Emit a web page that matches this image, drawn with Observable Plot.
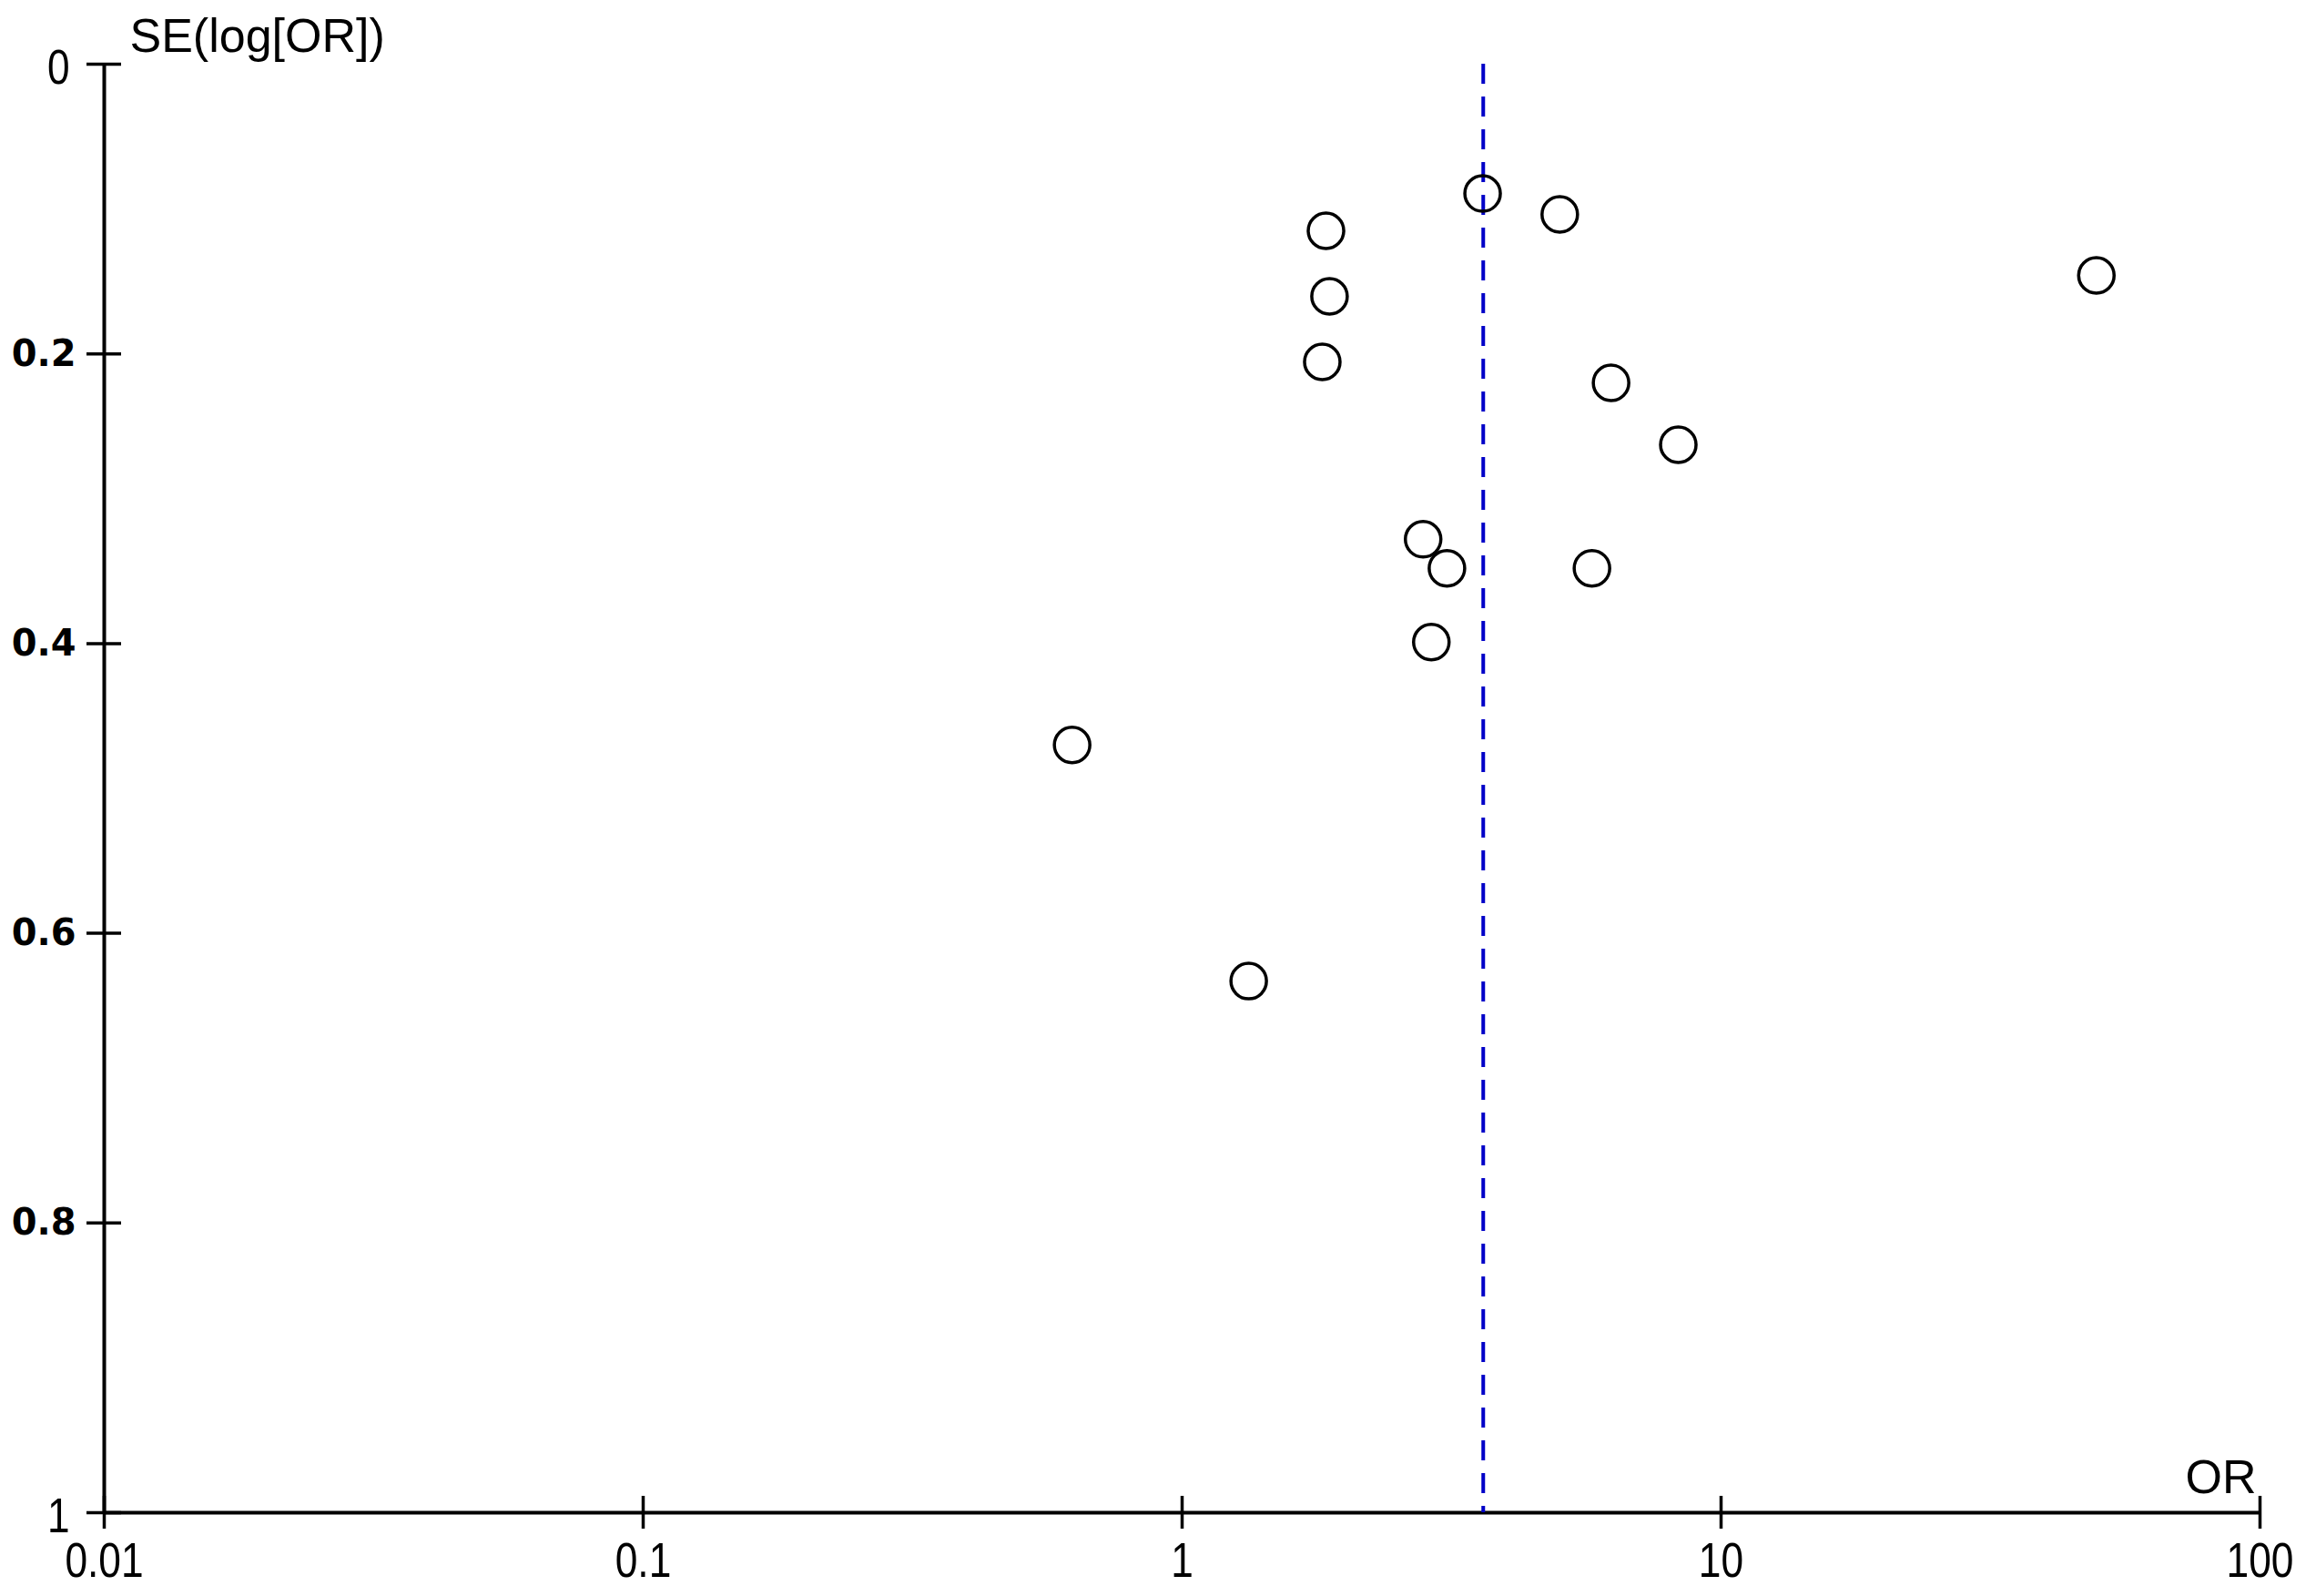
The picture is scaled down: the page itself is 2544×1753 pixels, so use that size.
<!DOCTYPE html>
<html>
<head>
<meta charset="utf-8">
<script src="https://cdn.jsdelivr.net/npm/d3@7"></script>
<script src="https://cdn.jsdelivr.net/npm/@observablehq/plot@0.6"></script>
<style>
  html, body { margin: 0; padding: 0; background: #ffffff; }
  #chart svg { display: block; }
</style>
</head>
<body>
<div id="chart"></div>
<script>
// ---- data ----
const oddsRatio = [3.61, 5.02, 1.849, 49.7, 1.877, 1.82, 6.25, 8.33, 2.80, 3.10, 5.76, 2.90, 0.625, 1.329];
const seLogOR   = [0.0893, 0.1037, 0.115, 0.1458, 0.1603, 0.2055, 0.220, 0.2627, 0.328, 0.348, 0.348, 0.399, 0.470, 0.633];
const pooledOR = [3.62];

const xTicks = [0.01, 0.1, 1, 10, 100];
const xTickLabels = ["0.01", "0.1", "1", "10", "100"];
const yTicksAll = [0, 0.2, 0.4, 0.6, 0.8, 1];
const yTicksEnds = [0, 1];
const yTickEndLabels = ["0", "1"];
const yTicksMid = [0.2, 0.4, 0.6, 0.8];
const yTickMidLabels = ["0.2", "0.4", "0.6", "0.8"];
const yTitle = "SE(log[OR])";
const xTitle = "OR";

const studies = oddsRatio.map((or, i) => ({or, se: seLogOR[i]}));

const narrowFont = "'Liberation Sans', Arial, sans-serif";
const wideFont = "'DejaVu Sans', 'Liberation Sans', sans-serif";

const chart = Plot.plot({
  width: 2544,
  height: 1753,
  marginLeft: 114,
  marginRight: 62,
  marginTop: 70,
  marginBottom: 92,
  style: {background: "#ffffff", fontFamily: narrowFont, color: "#000"},
  x: {type: "log", domain: [0.01, 100], axis: null},
  y: {domain: [0, 1], reverse: true, axis: null},
  marks: [
    // axis lines
    Plot.ruleX([0.01], {stroke: "#000", strokeWidth: 4}),
    Plot.ruleY([1], {stroke: "#000", strokeWidth: 4}),
    // double-sided tick marks
    Plot.axisX({ticks: xTicks, tickSize: 36, dy: -18, strokeWidth: 3.5, tickFormat: () => "", label: null}),
    Plot.axisY({ticks: yTicksAll, tickSize: 38, dx: 19, strokeWidth: 3.5, tickFormat: () => "", label: null}),
    // tick labels
    Plot.axisX({ticks: xTicks, tickSize: 0, tickPadding: 32, fontSize: 54, fontFamily: narrowFont,
      tickFormat: (d) => xTickLabels[xTicks.indexOf(d)], label: null}),
    Plot.axisY({ticks: yTicksEnds, tickSize: 0, tickPadding: 38, fontSize: 54, fontFamily: narrowFont,
      tickFormat: (d) => yTickEndLabels[yTicksEnds.indexOf(d)], label: null, dy: 4}),
    Plot.axisY({ticks: yTicksMid, tickSize: 0, tickPadding: 31, fontSize: 40, fontWeight: "bold", fontFamily: wideFont,
      tickFormat: (d) => yTickMidLabels[yTicksMid.indexOf(d)], label: null}),
    // axis titles
    Plot.text([yTitle], {frameAnchor: "top-left", textAnchor: "start", lineAnchor: "top",
      dx: 28, dy: -50, fontSize: 52, fontFamily: narrowFont, fill: "#000"}),
    Plot.text([xTitle], {frameAnchor: "bottom-right", textAnchor: "end", lineAnchor: "top",
      dx: -4, dy: -58, fontSize: 52, fontFamily: narrowFont, fill: "#000"}),
    // pooled estimate
    Plot.ruleX(pooledOR, {stroke: "#0000c8", strokeWidth: 4, strokeDasharray: "22,14"}),
    // studies
    Plot.dot(studies, {x: "or", y: "se", r: 19.5, stroke: "#000", strokeWidth: 3.5, fill: "none"})
  ]
});

document.getElementById("chart").appendChild(chart);

// The reference uses a narrow bitmap-style font: condense the tick labels horizontally.
const narrowLabels = new Set([...xTickLabels, ...yTickEndLabels]);
d3.select(chart).selectAll("text").each(function () {
  const t = this.textContent;
  const ff = (this.getAttribute("font-family") || (this.parentNode && this.parentNode.getAttribute("font-family")) || "");
  if (narrowLabels.has(t) && !ff.includes("DejaVu")) {
    const len = this.getComputedTextLength();
    if (len > 0) {
      this.setAttribute("textLength", (len * 0.82).toFixed(1));
      this.setAttribute("lengthAdjust", "spacingAndGlyphs");
    }
  }
});
</script>
</body>
</html>
